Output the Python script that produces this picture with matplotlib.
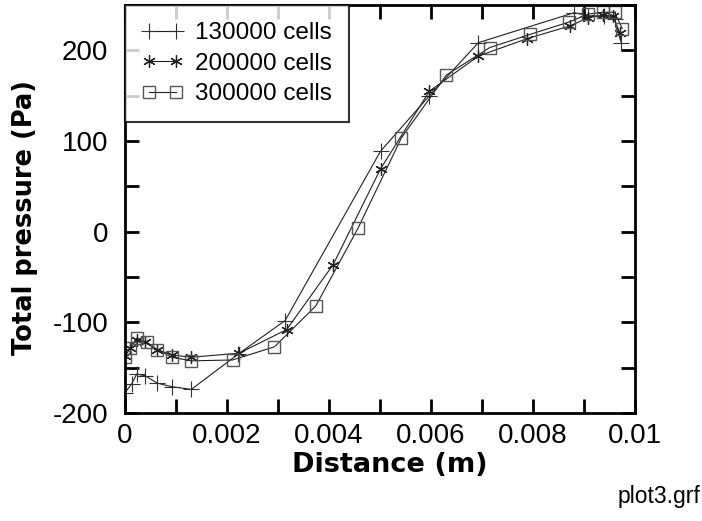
import numpy as np
import matplotlib.pyplot as plt
from matplotlib.ticker import MultipleLocator

# distance (m) and total pressure (Pa) for each mesh
d_130 = [0.0, 0.00013, 0.00023, 0.0004, 0.00063, 0.00092, 0.0013, 0.00222, 0.00314,
         0.00501, 0.00597, 0.00693, 0.00881, 0.00908, 0.0094, 0.0096, 0.00973]
p_130 = [-177.6, -168, -157, -159, -167, -171, -174, -135, -98,
         88.7, 150, 208.5, 241.6, 238, 238, 235, 208.5]

d_200 = [0.0, 0.0001, 0.00023, 0.0004, 0.00063, 0.00092, 0.0013, 0.00224, 0.00317,
         0.00408, 0.00501, 0.00597, 0.00693, 0.00789, 0.00873, 0.00908, 0.00937,
         0.00957, 0.0097]
p_200 = [-137, -128, -119, -122, -130, -136, -138.5, -134, -108,
         -36.5, 69.3, 155, 193.7, 213, 227, 236, 238.7,
         238, 219.6]

d_300 = [0.0, 0.0001, 0.00023, 0.00043, 0.00063, 0.00092, 0.0013, 0.00211, 0.00293,
         0.00374, 0.00457, 0.00542, 0.0063, 0.00715, 0.00795, 0.00871, 0.00908,
         0.00937, 0.0096, 0.00975]
p_300 = [-138, -128, -117.5, -122, -130, -138.5, -142.5, -141.5, -127,
         -82, 4, 103.5, 172.7, 203, 217.7, 231.3, 240,
         242, 242, 224]

labels = ['130000 cells', '200000 cells', '300000 cells']

plt.rcParams['font.family'] = ['Liberation Sans', 'DejaVu Sans']

fig = plt.figure(figsize=(7.02, 5.21), dpi=100)
ax = fig.add_axes([125/702, 1 - 413/521, 510/702, 408/521])

ax.plot(d_130, p_130, color='#202020', lw=0.8, marker='+', ms=11, mew=0.8,
        mec='#303030', label=labels[0])
ax.plot(d_200, p_200, color='#202020', lw=0.8, marker=(6, 2, 0), ms=9, mew=0.9,
        mec='#202020', label=labels[1])
ax.plot(d_300, p_300, color='#202020', lw=0.8, marker='s', ms=9, mew=1.0,
        mfc='none', mec='#555555', label=labels[2])

ax.set_xlim(0, 0.01)
ax.set_ylim(-200, 250)
ax.xaxis.set_minor_locator(MultipleLocator(0.001))
ax.yaxis.set_minor_locator(MultipleLocator(50))
ax.set_xticks([0, 0.002, 0.004, 0.006, 0.008, 0.01])
ax.set_xticklabels(['0', '0.002', '0.004', '0.006', '0.008', '0.01'])
ax.set_yticks([-200, -100, 0, 100, 200])
ax.set_yticklabels(['-200', '-100', '0', '100', '200'])

for which in ('major', 'minor'):
    ax.tick_params(which=which, direction='in', length=10, width=2,
                   top=True, right=True, labelsize=20)
ax.tick_params(axis='x', pad=7)
ax.tick_params(axis='y', pad=12)
for s in ax.spines.values():
    s.set_linewidth(2)

ax.set_xlabel('Distance (m)', fontsize=19.5, fontweight='bold',
              family='DejaVu Sans')
ax.set_ylabel('Total pressure (Pa)', fontsize=18.5, fontweight='bold',
              family='DejaVu Sans')
ax.xaxis.set_label_coords(0.519, -0.095)
ax.yaxis.set_label_coords(-0.17, 0.479)

leg = ax.legend(loc='upper left', numpoints=2, fontsize=17.5, frameon=True,
                fancybox=False, borderaxespad=0, handlelength=1.7,
                handletextpad=0.5, borderpad=0.7, labelspacing=0.35)
leg.get_frame().set_edgecolor('black')
leg.get_frame().set_linewidth(1.5)

fig.text(700/702, 1 - 497/521, 'plot3.grf', ha='right', va='center', fontsize=16.5)

fig.savefig('out.png', dpi=100)
